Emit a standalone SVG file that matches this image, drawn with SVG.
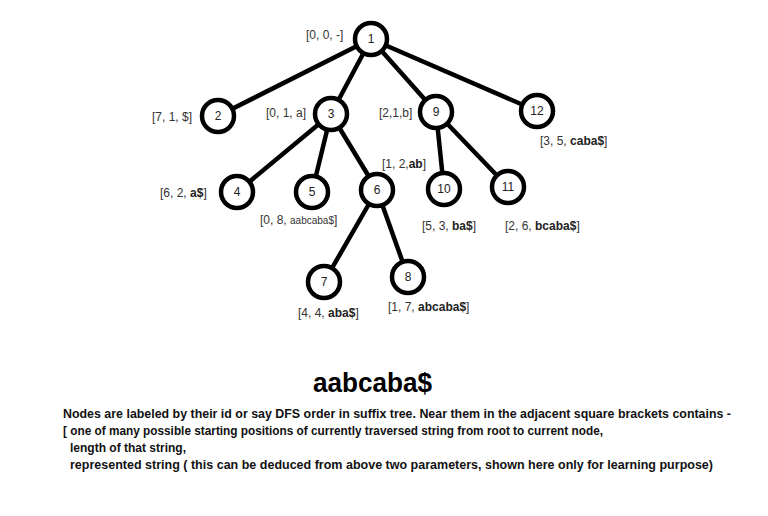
<svg xmlns="http://www.w3.org/2000/svg" width="768" height="516" viewBox="0 0 768 516">
<style>
.edge{stroke:#000;stroke-width:4.5;fill:none;stroke-linecap:round}
.node circle{fill:#fff;stroke:#000;stroke-width:4.5}
.node text{font-family:"Liberation Sans",Arial,sans-serif;font-size:12px;fill:#222;text-anchor:middle;dominant-baseline:central}
.lbl{font-family:"Liberation Sans",Arial,sans-serif;font-size:12px;fill:#333}
.b{font-weight:bold;fill:#222}
.title{font-family:"Liberation Sans",Arial,sans-serif;font-size:27px;font-weight:bold;fill:#000}
.desc{font-family:"Liberation Sans",Arial,sans-serif;font-size:13px;font-weight:bold;fill:#111}
</style>
<rect width="768" height="516" fill="#fff"/>
<g id="connectors">
<line class="edge" x1="371" y1="39" x2="218" y2="116"/>
<line class="edge" x1="371" y1="39" x2="331" y2="114"/>
<line class="edge" x1="371" y1="39" x2="436" y2="112"/>
<line class="edge" x1="371" y1="39" x2="537" y2="111"/>
<line class="edge" x1="331" y1="114" x2="237" y2="192"/>
<line class="edge" x1="331" y1="114" x2="312" y2="192"/>
<line class="edge" x1="331" y1="114" x2="377" y2="190"/>
<line class="edge" x1="436" y1="112" x2="444" y2="189"/>
<line class="edge" x1="436" y1="112" x2="508" y2="187"/>
<line class="edge" x1="377" y1="190" x2="324" y2="282"/>
<line class="edge" x1="377" y1="190" x2="408" y2="277"/>
</g>
<g id="n1" class="node"><circle cx="371" cy="39" r="16"/><text x="371" y="39">1</text></g>
<g id="n2" class="node"><circle cx="218" cy="116" r="16"/><text x="218" y="116">2</text></g>
<g id="n3" class="node"><circle cx="331" cy="114" r="16"/><text x="331" y="114">3</text></g>
<g id="n9" class="node"><circle cx="436" cy="112" r="16"/><text x="436" y="112">9</text></g>
<g id="n12" class="node"><circle cx="537" cy="111" r="16"/><text x="537" y="111">12</text></g>
<g id="n4" class="node"><circle cx="237" cy="192" r="16"/><text x="237" y="192">4</text></g>
<g id="n5" class="node"><circle cx="312" cy="192" r="16"/><text x="312" y="192">5</text></g>
<g id="n6" class="node"><circle cx="377" cy="190" r="16"/><text x="377" y="190">6</text></g>
<g id="n10" class="node"><circle cx="444" cy="189" r="16"/><text x="444" y="189">10</text></g>
<g id="n11" class="node"><circle cx="508" cy="187" r="16"/><text x="508" y="187">11</text></g>
<g id="n7" class="node"><circle cx="324" cy="282" r="16"/><text x="324" y="282">7</text></g>
<g id="n8" class="node"><circle cx="408" cy="277" r="16"/><text x="408" y="277">8</text></g>
<g id="labels">
<text class="lbl" x="306" y="39">[0, 0, -]</text>
<text class="lbl" x="152" y="121">[7, 1, $]</text>
<text class="lbl" x="266" y="117">[0, 1, a]</text>
<text class="lbl" x="379" y="117">[2,1,b]</text>
<text class="lbl" x="540" y="145">[3, 5, <tspan class="b">caba$</tspan>]</text>
<text class="lbl" x="382" y="168">[1, 2,<tspan class="b">ab</tspan>]</text>
<text class="lbl" x="160" y="197">[6, 2, <tspan class="b">a$</tspan>]</text>
<text class="lbl" x="260" y="224">[0, 8, <tspan font-size="10">aabcaba$</tspan>]</text>
<text class="lbl" x="422" y="230">[5, 3, <tspan class="b">ba$</tspan>]</text>
<text class="lbl" x="505" y="230">[2, 6, <tspan class="b">bcaba$</tspan>]</text>
<text class="lbl" x="298" y="317">[4, 4, <tspan class="b">aba$</tspan>]</text>
<text class="lbl" x="388" y="311">[1, 7, <tspan class="b">abcaba$</tspan>]</text>
</g>
<text class="title" x="313" y="392" textLength="119" lengthAdjust="spacingAndGlyphs">aabcaba$</text>
<text class="desc" x="63" y="418" textLength="668" lengthAdjust="spacingAndGlyphs">Nodes are labeled by their id or say DFS order in suffix tree. Near them in the adjacent square brackets contains -</text>
<text class="desc" x="63" y="435" textLength="540" lengthAdjust="spacingAndGlyphs">[ one of many possible starting positions of currently traversed string from root to current node,</text>
<text class="desc" x="70" y="452" textLength="116" lengthAdjust="spacingAndGlyphs">length of that string,</text>
<text class="desc" x="70" y="469" textLength="643" lengthAdjust="spacingAndGlyphs">represented string ( this can be deduced from above two parameters, shown here only for learning purpose)</text>
</svg>
